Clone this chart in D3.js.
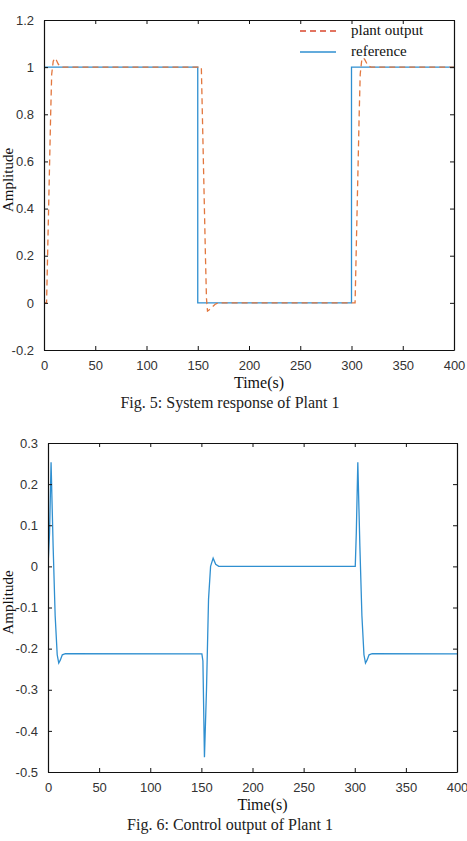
<!DOCTYPE html>
<html>
<head>
<meta charset="utf-8">
<script src="https://cdn.jsdelivr.net/npm/d3@7"></script>
<style>
  body { margin: 0; background: #fff; }
  svg { display: block; }
</style>
</head>
<body>
<div id="chart"></div>
<script>
// ---- data ----
const timeTicks = [0, 50, 100, 150, 200, 250, 300, 350, 400];
const ampTicks5 = [-0.2, 0, 0.2, 0.4, 0.6, 0.8, 1, 1.2];
const ampTicks6 = [-0.5, -0.4, -0.3, -0.2, -0.1, 0, 0.1, 0.2, 0.3];

// Fig. 5 reference (square wave)
const refTime  = [0, 150, 150, 300, 300, 400];
const refValue = [1, 1, 0, 0, 1, 1];

// Fig. 5 plant output
const plantTime  = [0, 2.5, 3.5, 4.5, 5.5, 6.5, 7.5, 9, 10.5, 12, 14, 16, 18,
                    153.5, 154.5, 155.5, 156.5, 157.5, 158.5, 159.5, 161, 164, 167, 170,
                    303.5, 304.5, 305.5, 306.5, 307.5, 308.5, 310, 311.5, 313, 315, 317, 319, 400];
const plantValue = [0, 0, 0.2, 0.4, 0.6, 0.8, 0.97, 1.025, 1.038, 1.03, 1.012, 1.003, 1.0,
                    1, 0.8, 0.6, 0.4, 0.2, 0.02, -0.035, -0.03, -0.018, -0.006, 0,
                    0, 0.2, 0.4, 0.6, 0.8, 0.97, 1.03, 1.04, 1.032, 1.015, 1.004, 1.0, 1];

// Fig. 6 control output
const ctrlTime  = [0, 1.5, 3, 5, 7, 9, 10.5, 12, 14, 17,
                   150.5, 151.5, 153, 155, 157, 159, 161.5, 164, 167,
                   300.5, 301.5, 303, 305, 307, 309, 310.5, 312, 314, 317, 400];
const ctrlValue = [0, 0.08, 0.253, 0.05, -0.12, -0.215, -0.235, -0.228, -0.215, -0.212,
                   -0.213, -0.23, -0.464, -0.3, -0.08, 0.0, 0.02, 0.005, 0,
                   0, 0.08, 0.253, 0.05, -0.12, -0.215, -0.235, -0.228, -0.215, -0.212, -0.213];

const legendLabels = ["plant output", "reference"];
const captions = ["Fig. 5: System response of Plant 1", "Fig. 6: Control output of Plant 1"];

// ---- drawing ----
const width = 467, height = 841;
const blue = "#2f8fd0";
const orange = "#e2773f";

const svg = d3.select("#chart").append("svg")
  .attr("width", width)
  .attr("height", height);

function drawPanel(box, yDomain, yTicks, series, caption) {
  const x = d3.scaleLinear().domain([0, 400]).range([box.left, box.right]);
  const y = d3.scaleLinear().domain(yDomain).range([box.bottom, box.top]);
  const g = svg.append("g");

  // data lines
  const clipId = "clip" + box.top;
  g.append("clipPath").attr("id", clipId).append("rect")
    .attr("x", box.left).attr("y", box.top)
    .attr("width", box.right - box.left).attr("height", box.bottom - box.top);

  series.forEach(s => {
    const pts = s.t.map((t, i) => [t, s.v[i]]);
    g.append("path")
      .datum(pts)
      .attr("clip-path", "url(#" + clipId + ")")
      .attr("fill", "none")
      .attr("stroke", s.color)
      .attr("stroke-width", s.width)
      .attr("stroke-dasharray", s.dash || null)
      .attr("d", d3.line().x(d => x(d[0])).y(d => y(d[1])));
  });

  // axes (MATLAB style: inward ticks on all sides)
  const fmt = d => String(d);
  const bottom = g.append("g").attr("transform", `translate(0,${box.bottom})`)
    .call(d3.axisBottom(x).tickValues(timeTicks).tickSizeInner(-4).tickSizeOuter(0).tickPadding(11).tickFormat(fmt));
  const top = g.append("g").attr("transform", `translate(0,${box.top})`)
    .call(d3.axisTop(x).tickValues(timeTicks).tickSizeInner(-4).tickSizeOuter(0).tickFormat(""));
  const left = g.append("g").attr("transform", `translate(${box.left},0)`)
    .call(d3.axisLeft(y).tickValues(yTicks).tickSizeInner(-4).tickSizeOuter(0).tickPadding(10).tickFormat(fmt));
  const right = g.append("g").attr("transform", `translate(${box.right},0)`)
    .call(d3.axisRight(y).tickValues(yTicks).tickSizeInner(-4).tickSizeOuter(0).tickFormat(""));

  [bottom, top, left, right].forEach(a => {
    a.select(".domain").attr("stroke", "#111").attr("stroke-width", 1.2);
    a.selectAll(".tick line").attr("stroke", "#111");
    a.selectAll(".tick text")
      .attr("fill", "#333")
      .style("font-family", "Liberation Sans, Arial, sans-serif")
      .style("font-size", "13px");
  });

  // axis labels
  g.append("text")
    .attr("x", (box.left + box.right) / 2 + 10)
    .attr("y", box.bottom + 38)
    .attr("text-anchor", "middle")
    .style("font-family", "Liberation Serif, Times New Roman, serif")
    .style("font-size", "16px")
    .attr("fill", "#111")
    .text("Time(s)");

  g.append("text")
    .attr("transform", `translate(13,${(box.top + box.bottom) / 2 - 5}) rotate(-90)`)
    .attr("text-anchor", "middle")
    .style("font-family", "Liberation Serif, Times New Roman, serif")
    .style("font-size", "15px")
    .attr("fill", "#111")
    .text("Amplitude");

  // caption
  g.append("text")
    .attr("x", 230)
    .attr("y", box.bottom + 58)
    .attr("text-anchor", "middle")
    .style("font-family", "Liberation Serif, Times New Roman, serif")
    .style("font-size", "16px")
    .attr("fill", "#222")
    .text(caption);

  return { x, y, g };
}

const p5 = drawPanel(
  { left: 44, right: 454, top: 20, bottom: 350 },
  [-0.2, 1.2], ampTicks5,
  [
    { t: refTime, v: refValue, color: blue, width: 1.3 },
    { t: plantTime, v: plantValue, color: orange, width: 1.3, dash: "6,4" }
  ],
  captions[0]
);

// legend (no box)
const legendStyles = [
  { color: "#d9472e", dash: "6,4" },
  { color: blue, dash: null }
];
legendLabels.forEach((lab, i) => {
  const ly = 31 + i * 21;
  p5.g.append("line")
    .attr("x1", 300).attr("x2", 336)
    .attr("y1", ly).attr("y2", ly)
    .attr("stroke", legendStyles[i].color)
    .attr("stroke-width", 1.3)
    .attr("stroke-dasharray", legendStyles[i].dash);
  p5.g.append("text")
    .attr("x", 351).attr("y", ly + 4)
    .style("font-family", "Liberation Serif, Times New Roman, serif")
    .style("font-size", "15px")
    .attr("fill", "#111")
    .text(lab);
});

drawPanel(
  { left: 48, right: 457, top: 443, bottom: 772 },
  [-0.5, 0.3], ampTicks6,
  [{ t: ctrlTime, v: ctrlValue, color: blue, width: 1.3 }],
  captions[1]
);
</script>
</body>
</html>
